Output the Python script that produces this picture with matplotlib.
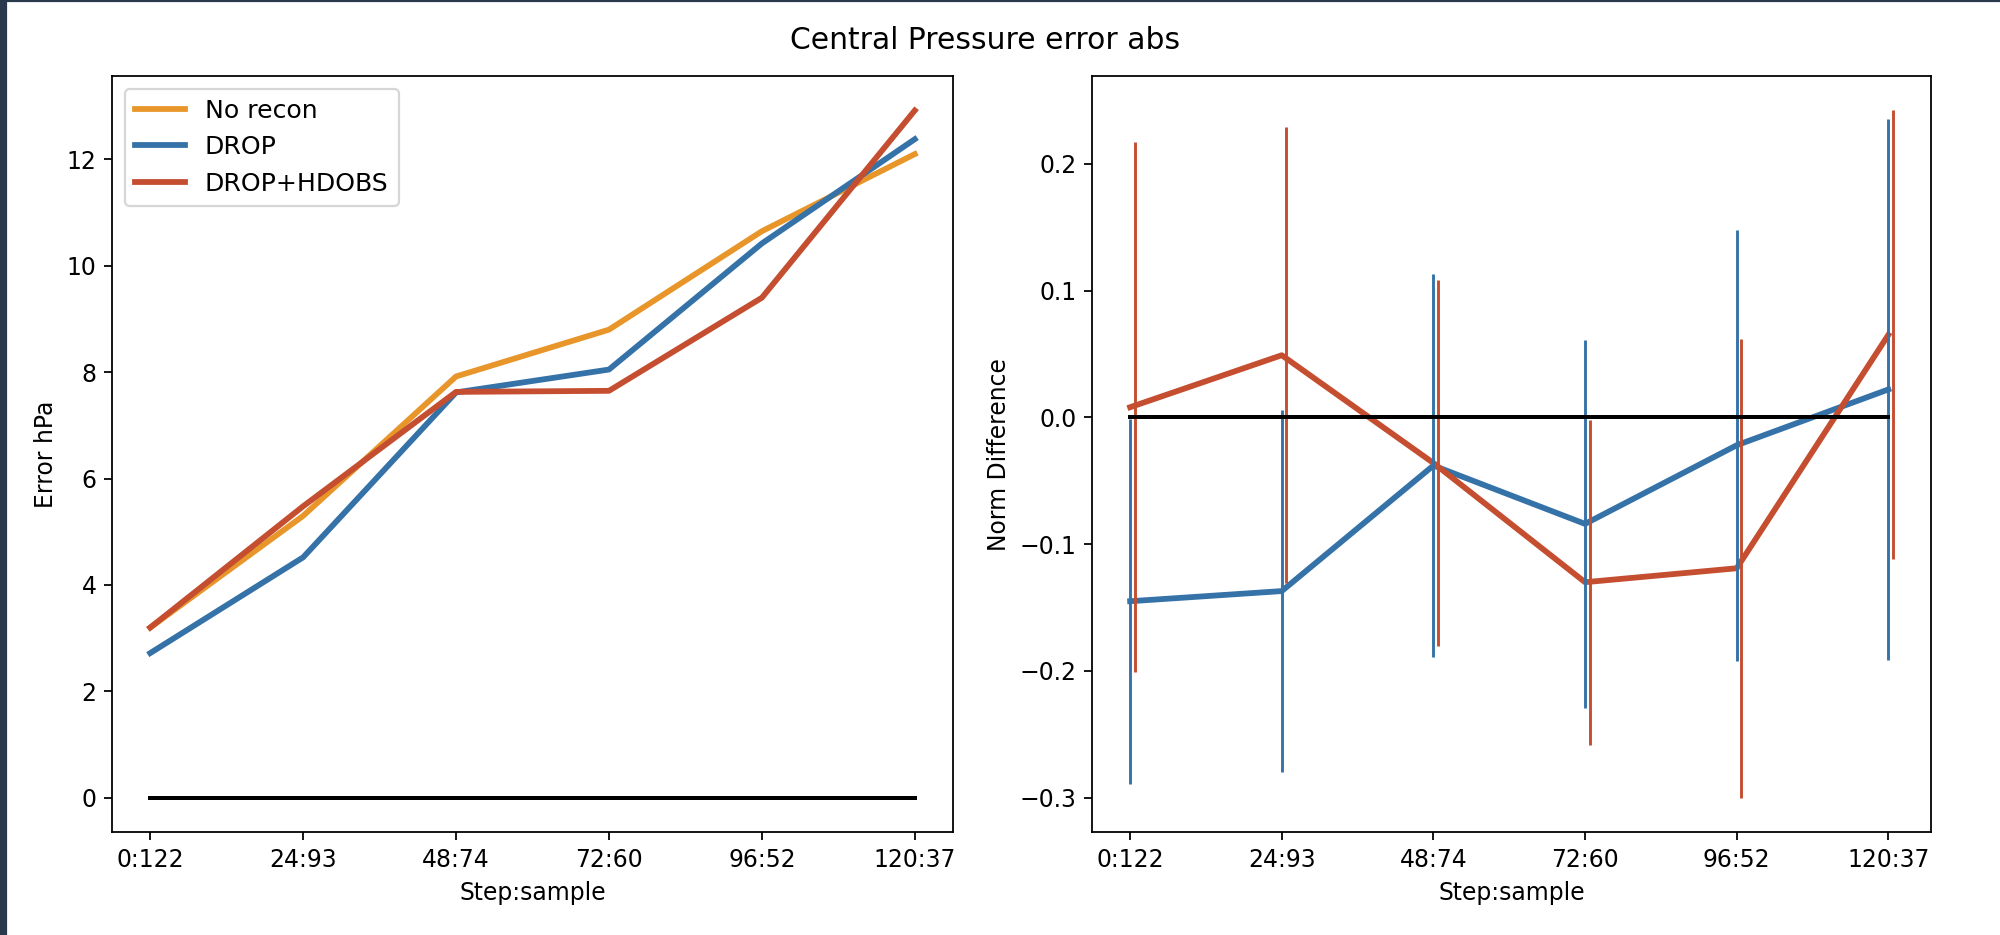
import numpy as np
import matplotlib
matplotlib.use("Agg")
from matplotlib import pyplot as plt
from matplotlib.patches import Rectangle

# data
steps = ['0:122', '24:93', '48:74', '72:60', '96:52', '120:37']
no_recon = [3.2, 5.3, 7.92, 8.8, 10.65, 12.1]
drop = [2.72, 4.52, 7.62, 8.05, 10.42, 12.38]
drop_hdobs = [3.2, 5.48, 7.63, 7.65, 9.4, 12.92]

# normalised difference vs No recon, with spread
diff_drop = [-0.145, -0.137, -0.038, -0.084, -0.022, 0.022]
err_drop = [0.144, 0.143, 0.151, 0.145, 0.170, 0.213]
diff_hdobs = [0.008, 0.049, -0.036, -0.130, -0.119, 0.065]
err_hdobs = [0.209, 0.180, 0.144, 0.128, 0.181, 0.177]

c_none = '#e8962a'
c_drop = '#3572a8'
c_hdobs = '#c44e2f'

plt.rcParams['font.size'] = 10.6

fig = plt.figure(figsize=(12.5, 5.84375), dpi=160)
# dark screenshot frame on the left / top
fig.patches.append(Rectangle((0, 0), 0.003, 1, transform=fig.transFigure, color='#2a3a4c', zorder=10))
fig.patches.append(Rectangle((0, 0.9985), 1, 0.0015, transform=fig.transFigure, color='#2a3a4c', zorder=10))

ax1 = fig.add_axes([0.056, 0.110, 0.4205, 0.8086])
ax2 = fig.add_axes([0.546, 0.110, 0.4195, 0.8086])

x = np.arange(len(steps))
lw = 2.6

ax1.plot(x, no_recon, color=c_none, lw=lw, label='No recon')
ax1.plot(x, drop, color=c_drop, lw=lw, label='DROP')
ax1.plot(x, drop_hdobs, color=c_hdobs, lw=lw, label='DROP+HDOBS')
ax1.plot(x, np.zeros(len(x)), color='k', lw=1.8)
ax1.set_xticks(x)
ax1.set_xticklabels(steps)
ax1.set_xlabel('Step:sample')
ax1.set_ylabel('Error hPa')
ax1.legend(loc='upper left', fontsize=11.3)

off = 0.03
ax2.plot(x, diff_drop, color=c_drop, lw=lw)
ax2.plot(x, diff_hdobs, color=c_hdobs, lw=lw)
ax2.errorbar(x, diff_drop, yerr=err_drop, fmt='none', ecolor=c_drop, elinewidth=1.3)
ax2.errorbar(x + off, diff_hdobs, yerr=err_hdobs, fmt='none', ecolor=c_hdobs, elinewidth=1.3)
ax2.plot(x, np.zeros(len(x)), color='k', lw=1.8)
ax2.set_xticks(x)
ax2.set_xticklabels(steps)
ax2.set_xlabel('Step:sample')
ax2.set_ylabel('Norm Difference')

fig.suptitle('Central Pressure error abs', x=0.4925, y=0.972, fontsize=13.4)

fig.savefig('out.png', dpi=160)
